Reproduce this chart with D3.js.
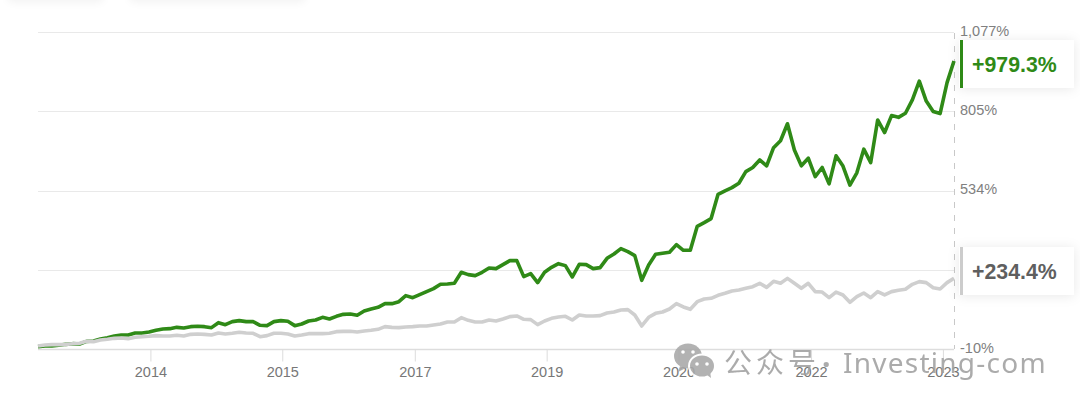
<!DOCTYPE html>
<html><head><meta charset="utf-8">
<script src="https://cdn.jsdelivr.net/npm/d3@7/dist/d3.min.js"></script>
<style>
html,body{margin:0;padding:0;background:#fff;overflow:hidden}
svg{display:block;font-family:"Liberation Sans",Arial,sans-serif}
</style></head><body><svg id="c" width="1080" height="405"></svg>
<script>
const stockValues=[0,2,2,4.3,7.7,10,8.9,18,19.2,26,30.6,36.3,39.8,39.8,46.6,46.6,50,55.8,60.3,61.5,66,63.8,68.3,69.5,68.3,64.9,82,75.2,85.5,89,85.5,85.5,73,71.8,85.5,89,86.6,71.8,77.5,87.8,91.2,100.4,94.6,103.8,110.6,111.8,107.2,122,129,134.7,147.2,147.2,154,174.7,167.8,178,188.4,198.7,213.5,214.7,217,254.7,246.7,243.3,254.7,269.6,267.3,281,294.7,294.7,239.8,250,219.3,254.7,271.9,284.4,277.6,238.7,282.1,281,267.3,270.7,302.7,317.6,335.9,325.6,311.9,227.3,279.9,316.4,319.9,323.3,349.6,330.2,330.2,412.5,425,438.8,522,534,545,560,600,614,640,620,682,706,764,674,620,646,583,614,558,654,619,554,596,677,631,777,734,792,786,800,846,910,842,806,799,905,979.3];
const indexValues=[2,5.5,6.6,6.6,7.7,10,11.2,18,16.9,22.6,24.9,28.3,29.5,27.2,31.8,34,35.2,37.5,36.3,36.3,38.6,36.3,42,43.2,42,39.8,46.6,43.2,45.5,48.9,46.6,45.5,34,37.5,45.5,45.5,43.2,36.3,39.8,44.3,44.3,44.3,45.5,51.2,52.3,52.3,50,53.5,55.8,59.2,68.3,66,64.9,67.2,68.3,70.6,70.6,74,77.5,84.4,84.4,99.2,90,84.4,84.4,91.2,87.8,94.6,102.6,104.9,93.5,92.4,75.2,87.8,96.9,101.5,103.8,91.2,108.4,104.9,104.9,106,115.2,118.6,125.5,126.7,108.4,70.6,100.4,114,118.6,128.9,147.2,135.8,127.8,154,163,165.5,175.8,182.7,190.7,194,199.8,205.5,217,203,223.8,217,234,217,199.8,217,188.4,187,167.8,187,177,151.8,171.2,183.8,167.8,188.4,177,188.4,193,196.4,213.5,222.7,219.3,202,197.5,219.3,234.4];
const xTickIndex=[16.2,35.2,54.3,73.3,92.3,111.4,130.4];
const xTickLabels=["2014","2015","2017","2019","2020","2022","2023"];
const yTicks=[-10,262,534,805,1077];
const yTickLabels=["-10%","262%","534%","805%","1,077%"];
const endLabels=[{text:"+979.3%",color:"#2f8a17",bar:"#2f8a17",value:979.3},{text:"+234.4%",color:"#5f5f5f",bar:"#cccccc",value:234.4}];

const svg=d3.select("#c");
const x=d3.scaleLinear().domain([0,stockValues.length-1]).range([38,954]);
const y=d3.scaleLinear().domain([-10,1077]).range([349.5,32.5]);

const defs=svg.append("defs");
const f=defs.append("filter").attr("id","sh").attr("x","-20%").attr("y","-40%").attr("width","140%").attr("height","180%");
f.append("feDropShadow").attr("dx",0).attr("dy",1).attr("stdDeviation",6).attr("flood-color","#000").attr("flood-opacity",.09);
const g2=defs.append("filter").attr("id","top").attr("x","-20%").attr("y","-200%").attr("width","140%").attr("height","500%");
g2.append("feGaussianBlur").attr("stdDeviation",5);

// faint shadows of elements above the crop
svg.selectAll("rect.topsh").data([[8,95],[130,175]]).join("rect").attr("class","topsh")
  .attr("x",d=>d[0]).attr("width",d=>d[1]).attr("y",-12).attr("height",14)
  .attr("fill","#000").attr("opacity",.05).attr("filter","url(#top)");

// gridlines
const gridRow=d=>Math.floor(y(d)+.15)+.5;
svg.append("g").selectAll("line").data(yTicks).join("line")
  .attr("x1",38).attr("x2",954).attr("y1",gridRow).attr("y2",gridRow)
  .attr("stroke",d=>d===-10?"#dddddd":"#e9e9e9").attr("stroke-width",d=>d===-10?1.6:1);

// x axis
const xAxis=d3.axisBottom(x).tickValues(xTickIndex).tickFormat((d,i)=>xTickLabels[i]).tickSize(12).tickPadding(5.5);
const gx=svg.append("g").attr("transform","translate(0,349.5)").call(xAxis);
gx.select(".domain").remove();
gx.selectAll("line").attr("stroke","#dcdcdc");
gx.selectAll("text").attr("fill","#777").attr("font-size",14.5).attr("font-family","inherit");

// right dashed line
svg.append("line").attr("x1",954.5).attr("x2",954.5).attr("y1",33).attr("y2",349)
  .attr("stroke","#c8c8c8").attr("stroke-dasharray","6 7");

// y axis labels
const yAxis=d3.axisRight(y).tickValues(yTicks).tickFormat((d,i)=>yTickLabels[i]).tickSize(0).tickPadding(6);
const gy=svg.append("g").attr("transform","translate(954,-1.5)").call(yAxis);
gy.select(".domain").remove();
gy.selectAll("text").attr("fill","#808080").attr("font-size",14.5).attr("font-family","inherit");

// lines
const line=d3.line().x((d,i)=>x(i)).y(d=>y(d));
svg.append("path").datum(stockValues).attr("d",line).attr("fill","none").attr("stroke","#2f8a17").attr("stroke-width",3.6).attr("stroke-linejoin","round");
svg.append("path").datum(indexValues).attr("d",line).attr("fill","none").attr("stroke","#cfcfcf").attr("stroke-width",3.6).attr("stroke-linejoin","round");

// end labels
const lab=svg.append("g").selectAll("g").data(endLabels).join("g")
  .attr("transform",d=>`translate(959,${Math.round(y(d.value))+(d.value>500?-21:-31)})`);
lab.append("rect").attr("width",115).attr("height",48).attr("fill","#fff").attr("filter","url(#sh)");
lab.append("rect").attr("x",1).attr("width",3).attr("height",48).attr("fill",d=>d.bar);
lab.append("text").attr("x",13).attr("y",31.5).attr("font-size",21.3).attr("font-weight",700).attr("fill",d=>d.color).text(d=>d.text);

// watermark
const wm=svg.append("g").attr("opacity",.88);
wm.append("ellipse").attr("cx",688).attr("cy",356).attr("rx",14).attr("ry",12.5).attr("fill","#a8a8a8");
wm.append("path").attr("d","M680 366 L678 372 L686 368 Z").attr("fill","#a8a8a8");
wm.append("ellipse").attr("cx",702).attr("cy",366).attr("rx",13).attr("ry",11.5).attr("fill","#a8a8a8").attr("stroke","#fff").attr("stroke-width",2);
wm.append("path").attr("d","M707 375 L711 378 L710 371 Z").attr("fill","#a8a8a8");
wm.selectAll("circle").data([[683,352],[693,352],[697,364],[707,364]]).join("circle")
  .attr("cx",d=>d[0]).attr("cy",d=>d[1]).attr("r",1.8).attr("fill","#fff");
wm.append("text").attr("x",724).attr("y",373).attr("font-family","'Noto Sans CJK SC'").attr("font-size",28).attr("letter-spacing",4).attr("fill","#a0a0a0").text("公众号");
wm.append("text").attr("x",822).attr("y",375).attr("font-family","'Noto Sans',sans-serif").attr("font-size",30).attr("font-weight",700).attr("fill","#a0a0a0").text("·");
wm.append("text").attr("x",843).attr("y",373).attr("font-family","'Noto Sans',sans-serif").attr("font-size",28).attr("letter-spacing",1.25).attr("fill","#a0a0a0").text("Investing-com");
</script></body></html>
